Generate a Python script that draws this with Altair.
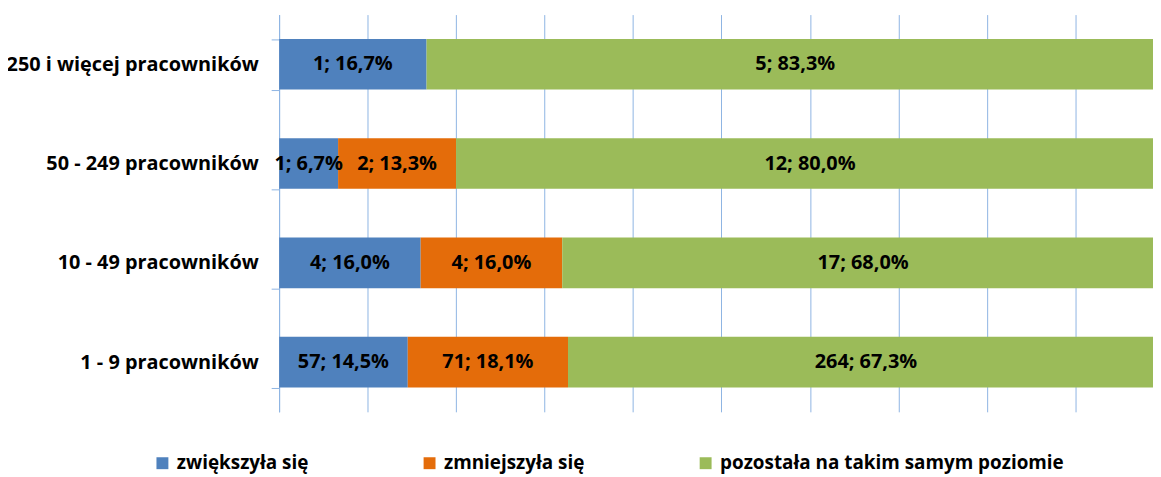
import altair as alt
import pandas as pd

categories = ["250 i więcej pracowników", "50 - 249 pracowników",
              "10 - 49 pracowników", "1 - 9 pracowników"]
series = ["zwiększyła się", "zmniejszyła się", "pozostała na takim samym poziomie"]
increased = [1, 1, 4, 57]
decreased = [0, 2, 4, 71]
unchanged = [5, 12, 17, 264]
colors = ["#4F81BD", "#E46C0A", "#9BBB59"]
grid_values = [0, 0.1, 0.2, 0.3, 0.4, 0.5, 0.6, 0.7, 0.8, 0.9]

rows = []
for i, cat in enumerate(categories):
    vals = [increased[i], decreased[i], unchanged[i]]
    total = sum(vals)
    for j, (s, n) in enumerate(zip(series, vals)):
        if n == 0:
            continue
        pct = n / total * 100
        label = f"{n}; {pct:.1f}".replace(".", ",") + "%"
        rows.append({"cat": cat, "series": s, "order": j, "n": n, "label": label})
df = pd.DataFrame(rows)

FONT = "Open Sans"
AXIS_BLUE = "#8EB4E3"

base = alt.Chart(df).transform_stack(
    stack="n", groupby=["cat"], as_=["x0", "x1"], offset="normalize",
    sort=[alt.SortField("order", "ascending")]
).transform_calculate(mid="(datum.x0 + datum.x1) / 2")

xscale = alt.Scale(domain=[0, 0.9877], nice=False, zero=False)
yenc = alt.Y("cat:N", sort=categories,
             scale=alt.Scale(paddingInner=0.49, paddingOuter=0.245),
             axis=alt.Axis(title=None, tickBand="extent", domainColor=AXIS_BLUE,
                           tickColor=AXIS_BLUE, tickSize=8, labelPadding=13,
                           labelFont=FONT, labelFontWeight="bold", labelFontSize=20,
                           labelColor="black", grid=False, labelLimit=500))

bars = base.mark_bar(clip=True).encode(
    x=alt.X("x0:Q", scale=xscale,
            axis=alt.Axis(title=None, values=grid_values, labels=False, ticks=False,
                          domain=False, grid=True, gridColor=AXIS_BLUE, gridWidth=1)),
    x2="x1:Q",
    y=yenc,
    color=alt.Color("series:N", scale=alt.Scale(domain=series, range=colors),
                    legend=alt.Legend(title=None, orient="none", direction="horizontal",
                                      legendX=-127, legendY=442, padding=0,
                                      symbolType="square", symbolSize=144,
                                      symbolStrokeWidth=0, labelOffset=5,
                                      columnPadding=112, labelFont=FONT,
                                      labelFontWeight="bold", labelFontSize=19,
                                      labelColor="black", labelLimit=600)),
    order=alt.Order("order:Q"),
)

texts = base.mark_text(font=FONT, fontWeight="bold", fontSize=20, color="black").encode(
    x=alt.X("mid:Q", scale=xscale),
    y=alt.Y("cat:N", sort=categories),
    text="label:N",
)

chart = alt.layer(bars, texts).properties(
    width=880, height=400,
    autosize=alt.AutoSizeParams(type="none"),
    padding={"left": 273, "top": 5, "right": 0, "bottom": 64},
).configure_view(stroke=None)

chart.save("out.html", embed_options={"renderer": "svg", "actions": False})
